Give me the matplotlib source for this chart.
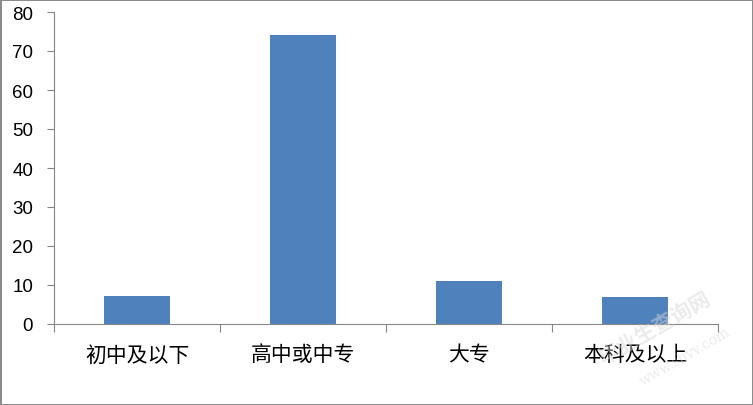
import matplotlib
matplotlib.use("Agg")
import matplotlib.pyplot as plt
import numpy as np

plt.rcParams['font.family'] = ['Noto Sans CJK SC', 'DejaVu Sans']

categories = ['初中及以下', '高中或中专', '大专', '本科及以上']
values = [7.2, 74, 11, 7]
yticks = [0, 10, 20, 30, 40, 50, 60, 70, 80]

fig = plt.figure(figsize=(7.53, 4.06), dpi=100)
fig.patch.set_edgecolor('#8c8c8c')
fig.patch.set_linewidth(2)
ax = fig.add_axes([54 / 753, 81 / 406, 664 / 753, 312 / 406])

x = np.arange(len(categories))
ax.bar(x, values, width=0.4, color='#4f81bd')

ax.set_xlim(-0.5, len(categories) - 0.5)
ax.set_ylim(0, 80)
ax.set_yticks(yticks)
ax.set_yticklabels([str(t) for t in yticks], fontsize=13.5, family='Liberation Sans')

# category ticks sit on the boundaries, labels in the middle
ax.set_xticks(np.arange(len(categories) + 1) - 0.5)
ax.set_xticklabels([])
ax.set_xticks(x, minor=True)
ax.set_xticklabels(categories, minor=True, fontsize=15)
ax.tick_params(axis='x', which='minor', length=0, pad=14)
ax.tick_params(axis='x', which='major', length=6, color='#868686')
ax.tick_params(axis='y', length=5, color='#868686', pad=10)

for s in ['top', 'right']:
    ax.spines[s].set_visible(False)
for s in ['left', 'bottom']:
    ax.spines[s].set_color('#868686')

# faint watermark
fig.text(0.87, 0.19, '毕业生查询网', rotation=30, fontsize=15, color='#d8d8d8',
         alpha=0.5, ha='center', va='center', weight='bold')
fig.text(0.91, 0.12, 'www.sbvv.com', rotation=30, fontsize=10, color='#d8d8d8',
         alpha=0.5, ha='center', va='center', family='DejaVu Serif')

fig.savefig('out.png', dpi=100)
